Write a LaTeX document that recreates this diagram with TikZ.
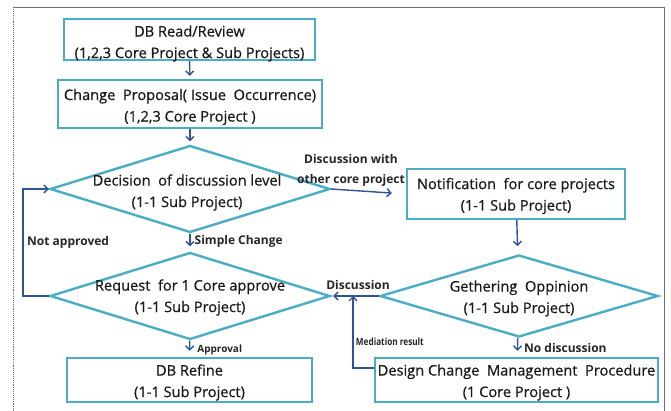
\documentclass[tikz,border=0pt]{standalone}
\usepackage{fontspec}
\setmainfont{Open Sans}
\newfontfamily\bodyfont[FakeBold=0.6]{Open Sans}
\usetikzlibrary{shapes.geometric,arrows.meta}
\definecolor{boxline}{RGB}{75,172,198}
\definecolor{flow}{RGB}{47,84,150}
\definecolor{frame}{RGB}{110,110,110}
\tikzset{
  stepbox/.style={draw=boxline, line width=2.4pt, rectangle, inner sep=0pt},
  choice/.style={draw=boxline, line width=2.4pt, diamond, inner sep=0pt},
  body/.style={font=\bodyfont\fontsize{14.6}{21.5}\selectfont, align=center, text=black!90},
  flowline/.style={draw=flow, line width=1.4pt, -{Straight Barb[length=4pt,width=8pt]}},
  tag/.style={font=\fontsize{12}{20}\selectfont\bfseries, text=black!85, inner sep=1pt},
}
\begin{document}
\begin{tikzpicture}[x=1pt,y=-1pt]
\useasboundingbox (0,0) rectangle (671,411);
\fill[white] (0,0) rectangle (671,411);
% outer frame: dotted left side, solid top and right
\begin{scope}
\clip (0,0) rectangle (671,411);
\draw[frame, line width=0.9pt] (13,7) -- (664,7) -- (664,430);
\draw[frame, line width=0.9pt, densely dotted] (13,430) -- (13,7);
\end{scope}

% boxes
\node[stepbox, minimum width=251pt, minimum height=41pt] (read) at (189.5,39.5) {};
\node[body] at (189.5,43.5) {DB Read/Review\\(1,2,3 Core Project \& Sub Projects)};

\node[stepbox, minimum width=264pt, minimum height=48pt] (prop) at (190,104) {};
\node[body] at (190,107) {Change~~Proposal(~Issue~~Occurrence)\\(1,2,3 Core Project~)};

\node[choice, minimum width=280pt, minimum height=87pt] (dec) at (190,189) {};
\node[body] at (187,192.5) {Decision~~of discussion~level\\(1-1 Sub Project)};

\node[choice, minimum width=280pt, minimum height=87pt] (req) at (190,296) {};
\node[body] at (190,297.5) {Request~~for 1 Core approve\\(1-1 Sub Project)};

\node[stepbox, minimum width=245pt, minimum height=44pt] (refine) at (189.5,380) {};
\node[body] at (189.5,382.5) {DB Refine\\(1-1 Sub Project)};

\node[stepbox, minimum width=218pt, minimum height=50pt] (notif) at (516,194) {};
\node[body] at (516,196) {Notification~~for core projects\\(1-1 Sub Project)};

\node[choice, minimum width=278pt, minimum height=82pt] (geth) at (519,296) {};
\node[body] at (519,298.5) {Gethering~~Oppinion\\(1-1 Sub Project)};

\node[stepbox, minimum width=283pt, minimum height=44pt] (design) at (516.5,380) {};
\node[body] at (516.5,382.5) {Design Change~~Management~~Procedure\\(1 Core Project~)};

% connectors
\draw[flowline, shorten >=3pt] (read) -- (prop);
\draw[flowline, shorten >=3pt] (prop) -- (dec);
\draw[flowline, shorten >=5pt] (dec) -- (req)
  node[tag, anchor=west, pos=0.45, xshift=3pt] {Simple Change};
\draw[flowline, shorten >=6pt] (req) -- (refine)
  node[tag, anchor=west, pos=0.55, xshift=6pt, font=\fontsize{10}{10}\selectfont\bfseries] {Approval};
\coordinate (loopL) at (23,296);
\coordinate (loopU) at (23,189);
\draw[flowline] (req.west) -- (loopL) -- (loopU) -- (dec.west);
\node[tag, anchor=west] (na) at (26,242) {Not approved};
\draw[flowline, shorten >=14pt] (dec.east) -- (notif.west);
\node[tag, align=center] (dw) at (351,170) {Discussion with\\other core project};
\draw[flowline, shorten >=8pt] (notif) -- (geth);
\draw[flowline, shorten >=6pt] (geth) -- (design)
  node[tag, anchor=west, pos=0.55, xshift=5pt] {No discussion};
\draw[flowline, shorten >=2pt] (geth.west) -- (req.east);
\node[tag] (disc) at (358,285) {Discussion};
\coordinate (medR) at (design.west |- 0,368);
\coordinate (medL) at (353,368);
\coordinate (medT) at (353,296);
\draw[flowline] (medR) -- (medL) -- (medT);
\node[tag, anchor=west, font=\fontsize{10}{10}\selectfont\bfseries, xscale=0.82] (med) at (355,342) {Mediation result};
\end{tikzpicture}
\end{document}
